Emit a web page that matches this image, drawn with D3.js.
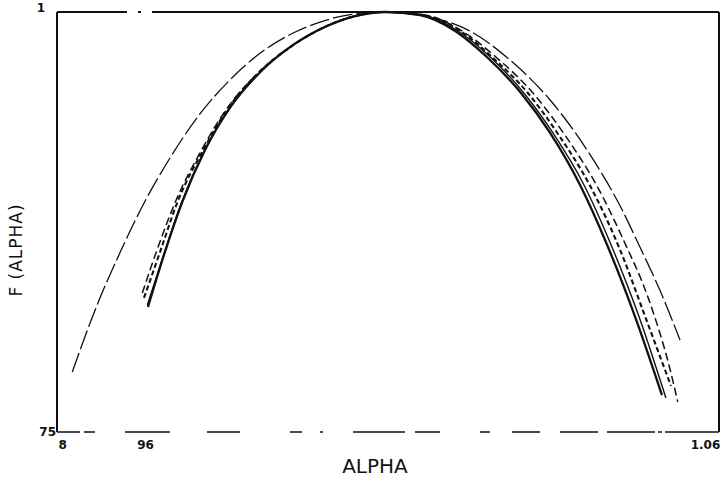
<!DOCTYPE html>
<html>
<head>
<meta charset="utf-8">
<script src="https://cdn.jsdelivr.net/npm/d3@7"></script>
<style>
  html, body { margin: 0; padding: 0; background: #fff; }
  svg { display: block; }
  text { font-family: "DejaVu Sans", "Liberation Sans", sans-serif; fill: #111; }
</style>
</head>
<body>
<svg id="chart" width="722" height="483"></svg>
<script>
// Axis tick positions and their printed labels
const xTickValues = [0.9453, 0.96, 1.06];
const xTickLabels = ["8", "96", "1.06"];
const yTickValues = [0.75, 1.0];
const yTickLabels = ["75", "1"];

// F(alpha) curves: alpha values and matching F values per curve
const wideAlpha = [0.9471, 0.9515, 0.9556, 0.9600, 0.9644, 0.9697, 0.9750, 0.9804, 0.9862, 0.9910, 0.9963, 1.0021,
                   1.0104, 1.0175, 1.0246, 1.0317, 1.0388, 1.0441, 1.0476, 1.0512, 1.0547];
const wideF     = [0.7857, 0.8256, 0.8571, 0.8875, 0.9131, 0.9393, 0.9595, 0.9756, 0.9875, 0.9940, 0.9985, 1.0000,
                   0.9970, 0.9887, 0.9714, 0.9476, 0.9149, 0.8845, 0.8601, 0.8339, 0.8048];

const solidAAlpha = [0.9605, 0.9635, 0.9665, 0.9706, 0.9750, 0.9804, 0.9862, 0.9922, 0.9972, 1.0025,
                     1.0087, 1.0149, 1.0205, 1.0264, 1.0317, 1.0370, 1.0418, 1.0467, 1.0515];
const solidAF     = [0.8244, 0.8571, 0.8863, 0.9179, 0.9429, 0.9643, 0.9804, 0.9917, 0.9976, 1.0000,
                     0.9982, 0.9887, 0.9732, 0.9524, 0.9280, 0.8970, 0.8613, 0.8190, 0.7720];

const solidBAlpha = [0.9604, 0.9635, 0.9665, 0.9706, 0.9750, 0.9804, 0.9862, 0.9922, 0.9972, 1.0028,
                     1.0090, 1.0154, 1.0211, 1.0269, 1.0322, 1.0377, 1.0425, 1.0474, 1.0522];
const solidBF     = [0.8256, 0.8577, 0.8869, 0.9179, 0.9429, 0.9643, 0.9804, 0.9917, 0.9976, 1.0000,
                     0.9982, 0.9887, 0.9732, 0.9524, 0.9280, 0.8970, 0.8613, 0.8190, 0.7702];

const dashAAlpha = [0.9595, 0.9621, 0.9655, 0.9697, 0.9743, 0.9800, 0.9860, 0.9922, 0.9972, 1.0030,
                    1.0096, 1.0161, 1.0223, 1.0285, 1.0343, 1.0402, 1.0455, 1.0480, 1.0504, 1.0526, 1.0543];
const dashAF     = [0.8327, 0.8583, 0.8881, 0.9161, 0.9417, 0.9637, 0.9798, 0.9917, 0.9976, 1.0000,
                    0.9982, 0.9887, 0.9726, 0.9524, 0.9268, 0.8952, 0.8583, 0.8393, 0.8167, 0.7917, 0.7679];

const dashBAlpha = [0.9598, 0.9627, 0.9658, 0.9701, 0.9745, 0.9802, 0.9860, 0.9922, 0.9972, 1.0028,
                    1.0092, 1.0158, 1.0216, 1.0276, 1.0331, 1.0388, 1.0441, 1.0485, 1.0512, 1.0531];
const dashBF     = [0.8298, 0.8577, 0.8875, 0.9167, 0.9417, 0.9643, 0.9798, 0.9917, 0.9976, 1.0000,
                    0.9982, 0.9887, 0.9726, 0.9524, 0.9274, 0.8964, 0.8583, 0.8190, 0.7946, 0.7774];

const series = [
  { alpha: wideAlpha,   f: wideF,   width: 1.3, dash: "20,4" },
  { alpha: dashAAlpha,  f: dashAF,  width: 1.5, dash: "8,4" },
  { alpha: dashBAlpha,  f: dashBF,  width: 2.1, dash: "5,3" },
  { alpha: solidBAlpha, f: solidBF, width: 1.4, dash: null },
  { alpha: solidAAlpha, f: solidAF, width: 2.3, dash: null }
];

const svg = d3.select("#chart");
const plotLeft = 57, plotRight = 719, plotTop = 12, plotBottom = 432;

const x = d3.scaleLinear().domain([0.9444, 1.0616]).range([plotLeft, plotRight]);
const y = d3.scaleLinear().domain([0.75, 1.0]).range([plotBottom, plotTop]);

// Frame (the printed border is broken in places)
const frame = svg.append("g").attr("stroke", "#111").attr("fill", "none");
frame.append("line").attr("x1", plotLeft).attr("x2", plotRight).attr("y1", plotTop).attr("y2", plotTop)
  .attr("stroke-width", 2).attr("stroke-dasharray", "70,11,3,11,600");
frame.append("line").attr("x1", plotLeft).attr("x2", plotLeft).attr("y1", plotTop).attr("y2", plotBottom)
  .attr("stroke-width", 2);
frame.append("line").attr("x1", plotRight).attr("x2", plotRight).attr("y1", plotTop).attr("y2", plotBottom)
  .attr("stroke-width", 2);
frame.append("line").attr("x1", plotLeft).attr("x2", plotRight).attr("y1", plotBottom).attr("y2", plotBottom)
  .attr("stroke-width", 1.6)
  .attr("stroke-dasharray", "23,4,11,30,45,37,33,50,12,18,3,30,52,10,25,40,10,22,28,20,38,9,48,3,4,3,60");

// Axes (labels only; the frame carries the lines)
const xAxis = d3.axisBottom(x).tickValues(xTickValues).tickSize(0).tickPadding(8)
  .tickFormat((d, i) => xTickLabels[i]);
const gx = svg.append("g").attr("transform", `translate(0,${plotBottom})`).call(xAxis);
gx.select(".domain").remove();
gx.selectAll("text").attr("font-size", 12).attr("font-weight", "bold")
  .style("font-family", "'DejaVu Sans', sans-serif");
gx.selectAll(".tick").filter(d => d === 1.06).select("text").attr("dx", -5);

const yAxis = d3.axisLeft(y).tickValues(yTickValues).tickSize(0).tickPadding(1)
  .tickFormat((d, i) => yTickLabels[i]);
const gy = svg.append("g").attr("transform", `translate(${plotLeft},0)`).call(yAxis);
gy.select(".domain").remove();
gy.selectAll("text").attr("font-size", 12).attr("font-weight", "bold")
  .style("font-family", "'DejaVu Sans', sans-serif");
gy.selectAll(".tick").filter(d => d === 1.0).select("text").attr("dx", -11).attr("dy", "-0.05em");

// Axis titles
svg.append("text").attr("x", 375).attr("y", 473).attr("text-anchor", "middle")
  .attr("font-size", 20).text("ALPHA");
svg.append("text").attr("transform", "translate(22,250) rotate(-90)").attr("text-anchor", "middle")
  .attr("font-size", 17).attr("letter-spacing", 1).text("F (ALPHA)");

// Curves
const line = d3.line()
  .x(d => x(d[0]))
  .y(d => y(d[1]))
  .curve(d3.curveMonotoneX);

svg.append("g").selectAll("path").data(series).join("path")
  .attr("d", s => line(d3.zip(s.alpha, s.f)))
  .attr("fill", "none")
  .attr("stroke", "#111")
  .attr("stroke-width", s => s.width)
  .attr("stroke-dasharray", s => s.dash);
</script>
</body>
</html>
